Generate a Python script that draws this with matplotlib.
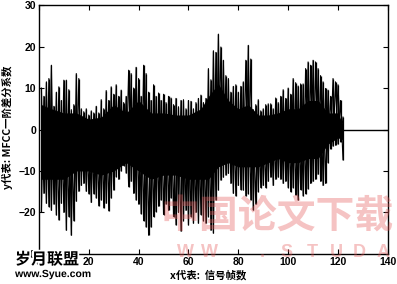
import matplotlib
matplotlib.use("Agg")
import matplotlib.pyplot as plt
import matplotlib.patheffects as pe

# ---- data ----
frames = list(range(1, 123))
upper = [10, 8, 11.5, 12.3, 15.5, 5.6, 9, 10.3, 7, 11.9,
         11.9, 9.6, 4.8, 6, 13.5, 12.3, 5, 4.3, 5, 3.5,
         4.5, 4, 5.6, 4, 7.2, 5, 9.4, 7, 10.3, 8.5,
         10.8, 8, 9.5, 6.5, 8, 14.3, 13.5, 10, 15, 12.3,
         8, 15.5, 13.5, 9, 7, 10.8, 8, 8.8, 7, 8.5,
         6.5, 8, 7.6, 6, 7.5, 5.5, 7, 7.2, 5, 7,
         6.8, 5, 6.5, 7.5, 8.3, 6.5, 7.5, 14.7, 12, 19,
         18.6, 23, 19.9, 16.7, 13, 12.3, 9, 10.4, 10.8, 9,
         10.4, 11.5, 16.7, 20.3, 17, 4.8, 6, 7.2, 4.5, 5,
         6, 6.2, 6.2, 5, 7.6, 6.5, 8, 9.6, 7.5, 10,
         8.5, 12.3, 11.3, 10.5, 11, 11, 14.7, 16.3, 15.5, 16.7,
         16.3, 14.7, 13, 11.5, 9.9, 9.5, 8, 12.3, 11.5, 10.8,
         7, 3]
lower = [-19.8, -15.4, -17.8, -18.6, -19.5, -18, -20.6, -21.8, -17.8, -20,
         -24.3, -21, -25.5, -22, -17.3, -14.9, -13.5, -13, -14.9, -15.5,
         -17.6, -15.5, -16.5, -18.4, -17, -18.9, -17.8, -19.6, -16.5, -14.6,
         -11.4, -12, -10, -8.7, -10.5, -13.8, -12.5, -15.4, -17, -18,
         -20.3, -22, -23.5, -25.5, -23.5, -21, -19.8, -18.5, -17, -20.5,
         -18, -19.5, -16.5, -21, -23, -20, -24.5, -22, -19.5, -23,
         -21, -22.6, -20, -22.6, -20.5, -22, -22.6, -21, -24.3, -25,
         -17, -14.6, -12.2, -11.5, -11, -10.6, -13, -15.4, -16, -13.5,
         -14.5, -14.6, -16, -15.5, -17, -19.4, -18, -15, -14, -13.5,
         -14, -12.5, -11.5, -13.5, -12, -11.5, -12, -13, -12.5, -14,
         -15, -14, -15.8, -17, -14.5, -16, -15.5, -14.3, -13, -12.5,
         -12, -10.8, -12.5, -13.5, -13, -8, -4.7, -4, -3.8, -3.5,
         -3, -7.3]
core_frames = [1, 5, 10, 15, 20, 25, 30, 35, 40, 45, 50, 55, 60, 65, 68,
               72, 76, 80, 84, 88, 92, 96, 100, 104, 108, 112, 116, 120, 122]
core_high = [6, 5, 4, 4, 2.5, 3, 6, 4, 7, 4, 4, 3.5, 3.5, 5, 8,
             11, 7, 5, 6, 3.5, 3.5, 4, 5, 5, 7, 7, 4, 4, 1]
core_low = [-12, -12, -12, -10, -10, -11, -10, -8, -10, -12, -11, -11, -12, -12, -12,
            -9, -8, -9, -9, -9, -8, -7, -8, -8, -7, -7, -3.5, -2, -2.5]
tail_frames = [122, 123, 124, 125, 126, 127, 128, 129, 130, 131,
               132, 133, 134, 135, 136, 137, 138, 139, 140]
tail_values = [0, 0, 0, 0, 0, 0, 0, 0, 0, 0,
               0, 0, 0, 0, 0, 0, 0, 0, 0]
xticks = [0, 20, 40, 60, 80, 100, 120, 140]
yticks = [-30, -20, -10, 0, 10, 20, 30]

plt.rcParams['font.family'] = ['Liberation Sans', 'Noto Sans CJK SC', 'DejaVu Sans']

fig = plt.figure(figsize=(3.97, 2.84), dpi=100)
ax = fig.add_axes([0.098, 0.106, 0.879, 0.876])

# two zig-zag traces swinging between the read peaks and troughs
trace_a = [upper[i] if i % 2 == 0 else lower[i] for i in range(len(frames))]
trace_b = [lower[i] if i % 2 == 0 else upper[i] for i in range(len(frames))]
ax.fill_between(core_frames, core_low, core_high, color='black', lw=0)
ax.plot(frames, trace_a, color='black', lw=0.8)
ax.plot(frames, trace_b, color='black', lw=0.8)
ax.vlines(frames, lower, upper, color='black', lw=0.9)
ax.plot(tail_frames, tail_values, color='black', lw=1.0)

ax.set_xlim(0, 140)
ax.set_ylim(-30, 30)
ax.set_xticks(xticks)
ax.set_yticks(yticks)
ax.tick_params(direction='in', length=3.5, width=0.8, top=True, right=True,
               labelsize=7.5, pad=2)
for lab in ax.get_xticklabels() + ax.get_yticklabels():
    lab.set_fontweight('bold')
for s in ax.spines.values():
    s.set_linewidth(1.0)

cjk = ['Noto Sans CJK SC', 'DejaVu Sans']
fig.text(0.02, 0.55, 'y代表: MFCC一阶差分系数', rotation=90, ha='center', va='center',
         fontsize=7.5, family=cjk, fontweight='bold')
fig.text(0.525, 0.03, 'x代表:  信号帧数', ha='center', va='center',
         fontsize=7.5, family=cjk, fontweight='bold')

# watermarks
wm_color = (0.9, 0.35, 0.35)
fig.text(0.697, 0.239, '中国论文下载', ha='center', va='center', fontsize=28,
         family=cjk, fontweight='bold', color=wm_color, alpha=0.36)
for ch, px in zip(['W', 'W', '.', 'S', 'T', 'U', 'D', 'A'],
                  [185, 209, 262, 287, 312, 336, 359, 383]):
    fig.text(px / 397, 0.112, ch, ha='center', va='center', fontsize=13,
             family=['Liberation Sans'], fontweight='bold', color=wm_color, alpha=0.36)
stroke = [pe.withStroke(linewidth=2.5, foreground='white')]
fig.text(0.038, 0.087, '岁月联盟', ha='left', va='center', fontsize=11.5,
         family=cjk, fontweight='bold', color='black', path_effects=stroke)
fig.text(0.038, 0.035, 'www.Syue.com', ha='left', va='center', fontsize=7.5,
         family=['Liberation Sans'], fontweight='bold', color='black', path_effects=stroke)

fig.savefig('out.png', dpi=100)
